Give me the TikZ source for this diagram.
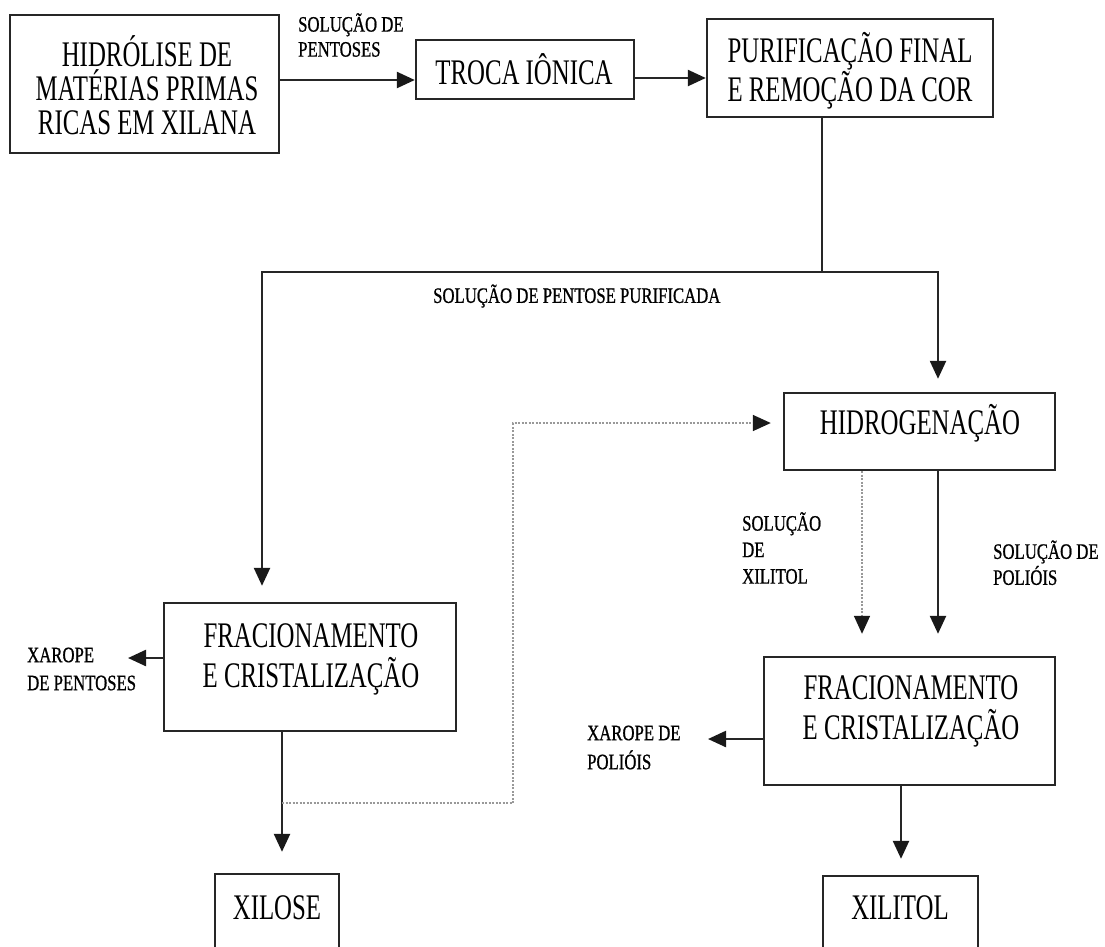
\documentclass[tikz,border=0pt]{standalone}
\usepackage{fontspec}
\setmainfont{Liberation Serif}
\newfontfamily\boxfont[FakeStretch=0.69]{Liberation Serif}
\newfontfamily\labfont[FakeStretch=0.76,FakeBold=0.8]{Liberation Serif}
\usetikzlibrary{arrows.meta}

\begin{document}
\begin{tikzpicture}[x=1pt,y=-1pt,
  box/.style={draw=black!85, line width=2.4pt, inner sep=0pt, fill=white},
  btxt/.style={font=\boxfont\fontsize{36}{34}\selectfont, align=center, inner sep=0pt, text=black},
  ltxt/.style={font=\labfont\fontsize{22}{25}\selectfont, align=left, inner sep=0pt, anchor=west, text=black},
  tip/.style={-{Triangle[length=18pt,width=16pt,color=black!90]}},
  flow/.style={draw=black!85, line width=2.4pt, tip},
  plain/.style={draw=black!85, line width=2.4pt},
  dotline/.style={draw=black!40, line width=1.6pt, dash pattern=on 2pt off 1.5pt, tip},
]
\useasboundingbox (0,0) rectangle (1105,946);
\fill[white] (0,0) rectangle (1105,946);
\clip (0,0) rectangle (1105,946);

% boxes
\node[box, minimum width=269, minimum height=138] (hid) at (144.5,84) {};
\node[box, minimum width=218, minimum height=59] (troca) at (525,69.5) {};
\node[box, minimum width=286, minimum height=98] (puri) at (850,68) {};
\node[box, minimum width=271, minimum height=77] (hidro) at (919.5,431.5) {};
\node[box, minimum width=292, minimum height=128] (fracL) at (310,667) {};
\node[box, minimum width=291, minimum height=128] (fracR) at (909.5,721) {};
\node[box, minimum width=124, minimum height=96] (xilose) at (277,922) {};
\node[box, minimum width=155, minimum height=94] (xilitol) at (900.5,923) {};

% box texts
\node[btxt] (hidT) at (147,85) {HIDRÓLISE DE\\MATÉRIAS PRIMAS\\RICAS EM XILANA};
\node[btxt] (trocaT) at (524,69) {TROCA IÔNICA};
\node[btxt, font=\boxfont\fontsize{36}{39}\selectfont] (puriT) at (850,70.3) {PURIFICAÇÃO FINAL\\E REMOÇÃO DA COR};
\node[btxt] (hidroT) at (920,423.3) {HIDROGENAÇÃO};
\node[btxt, font=\boxfont\fontsize{36}{40}\selectfont] (fracLT) at (311,659) {FRACIONAMENTO\\E CRISTALIZAÇÃO};
\node[btxt, font=\boxfont\fontsize{36}{40}\selectfont] (fracRT) at (911,711.5) {FRACIONAMENTO\\E CRISTALIZAÇÃO};
\node[btxt] (xiloseT) at (277,908) {XILOSE};
\node[btxt] (xilitolT) at (900,908) {XILITOL};

% labels
\node[ltxt] (l1) at (298,35) {SOLUÇÃO DE\\PENTOSES};
\node[ltxt] (l2) at (433,296) {SOLUÇÃO DE PENTOSE PURIFICADA};
\node[ltxt, font=\labfont\fontsize{22}{26.5}\selectfont] (l3) at (742,548) {SOLUÇÃO\\DE\\XILITOL};
\node[ltxt, font=\labfont\fontsize{22}{26}\selectfont] (l4) at (993,562.7) {SOLUÇÃO DE\\POLIÓIS};
\node[ltxt, font=\labfont\fontsize{22}{28}\selectfont] (l5) at (27,669) {XAROPE\\DE PENTOSES};
\node[ltxt, font=\labfont\fontsize{22}{29}\selectfont] (l6) at (587,747.5) {XAROPE DE\\POLIÓIS};

% free ends and junctions
\coordinate (j) at (822,272);
\coordinate (xp) at (128,658);
\coordinate (xpol) at (708,739);
\coordinate (d1) at (282,803);
\coordinate (d2) at (513,423);

% connectors
\draw[flow] (hid.east |- 0,80) -- (troca.west |- 0,80);
\draw[flow] (troca.east |- 0,78) -- (puri.west |- 0,78);
\draw[plain] (puri.south -| j) -- (j);
\draw[flow, shorten >=16pt] (j) -| (fracL.north -| 262,0);
\draw[flow, shorten >=13pt] (j) -| (hidro.north -| 938,0);
\draw[dotline, shorten >=22pt] (hidro.south -| 862,0) -- (fracR.north -| 862,0);
\draw[flow, shorten >=22pt] (hidro.south -| 938,0) -- (fracR.north -| 938,0);
\draw[flow, shorten >=21pt] (fracL.south -| 282,0) -- (xilose.north -| 282,0);
\draw[flow, shorten >=16pt] (fracR.south -| 901,0) -- (xilitol.north -| 901,0);
\draw[flow] (fracL.west |- xp) -- (xp);
\draw[flow] (fracR.west |- xpol) -- (xpol);
\draw[dotline, shorten >=12pt] (d1) -| (d2) -- (hidro.west |- d2);
\end{tikzpicture}
\end{document}
